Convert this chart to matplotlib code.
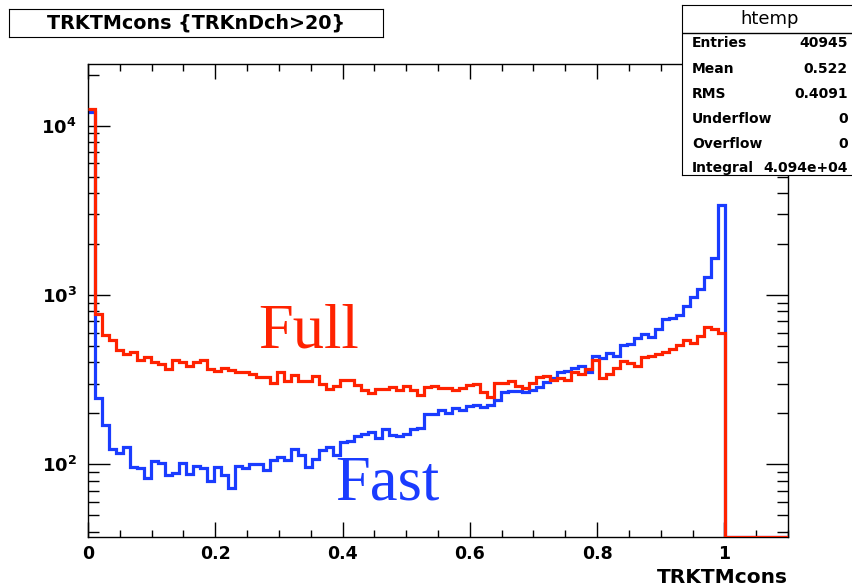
import numpy as np
import matplotlib
matplotlib.use("Agg")
import matplotlib.pyplot as plt
from matplotlib.ticker import MultipleLocator, LogLocator, NullFormatter

# histogram contents, 100 bins from 0 to 1.1
full = [12500, 773, 581, 542, 473, 448, 462, 413, 428, 404,
        391, 364, 413, 404, 382, 404, 413, 364, 356, 369,
        360, 349, 349, 341, 329, 329, 303, 352, 312, 337,
        312, 312, 332, 298, 277, 290, 315, 315, 294, 275,
        265, 278, 278, 287, 275, 290, 275, 256, 287, 290,
        284, 281, 275, 281, 294, 297, 268, 251, 303, 303,
        312, 290, 281, 303, 327, 332, 315, 322, 315, 352,
        341, 364, 413, 322, 341, 369, 409, 395, 381, 433,
        438, 448, 462, 478, 507, 542, 518, 573, 644, 627,
        594, 0, 0, 0, 0, 0, 0, 0, 0, 0]

fast = [12100, 245, 171, 123, 117, 127, 97, 95, 83, 105,
        102, 87, 89, 102, 88, 98, 95, 80, 97, 86,
        72, 98, 95, 100, 101, 92, 106, 111, 106, 123,
        113, 97, 107, 121, 127, 113, 136, 137, 146, 151,
        156, 143, 161, 149, 146, 152, 161, 163, 198, 198,
        209, 202, 214, 209, 221, 224, 217, 224, 240, 268,
        272, 272, 268, 275, 287, 307, 322, 352, 357, 369,
        381, 352, 437, 423, 456, 438, 507, 514, 555, 588,
        563, 627, 718, 729, 762, 861, 977, 1082, 1273, 1648,
        3400, 0, 0, 0, 0, 0, 0, 0, 0, 0]

x_lo, x_hi = 0.0, 1.1
y_lo, y_hi = 37.2, 23140

xticks = [0, 0.2, 0.4, 0.6, 0.8, 1.0]
xticklabels = ["0", "0.2", "0.4", "0.6", "0.8", "1"]
yticks = [100, 1000, 10000]
yticklabels = [r"$\mathbf{10^{2}}$", r"$\mathbf{10^{3}}$", r"$\mathbf{10^{4}}$"]

stat_names = ["Entries", "Mean", "RMS", "Underflow", "Overflow", "Integral"]
stat_values = ["40945", "0.522", "0.4091", "0", "0", "4.094e+04"]

RED = "#ff2200"
BLUE = "#1a3cff"

plt.rcParams["font.family"] = "DejaVu Sans"
plt.rcParams["mathtext.fontset"] = "dejavusans"

W, H = 852, 588
fig = plt.figure(figsize=(W / 100, H / 100), dpi=100)
ax = fig.add_axes([88 / W, 1 - 537 / H, 700 / W, 473 / H])

edges = np.linspace(x_lo, x_hi, len(full) + 1)
# empty bins are drawn along the bottom of the frame, like ROOT does
ax.stairs(np.where(np.array(fast) > 0, fast, y_lo), edges, baseline=None,
          color=BLUE, lw=2.3, zorder=2)
ax.stairs(np.where(np.array(full) > 0, full, y_lo), edges, baseline=None,
          color=RED, lw=2.3, zorder=3)

ax.set_yscale("log")
ax.set_xlim(x_lo, x_hi)
ax.set_ylim(y_lo, y_hi)

ax.set_xticks(xticks)
ax.set_xticklabels(xticklabels, fontweight="bold")
ax.xaxis.set_minor_locator(MultipleLocator(0.05))
ax.set_yticks(yticks)
ax.set_yticklabels(yticklabels)
ax.yaxis.set_minor_locator(LogLocator(base=10, subs=np.arange(2, 10)))
ax.yaxis.set_minor_formatter(NullFormatter())

ax.tick_params(which="both", direction="in", top=True, right=True, width=1)
ax.tick_params(axis="x", which="major", length=10.8, labelsize=12.5, pad=5.5)
ax.tick_params(axis="x", which="minor", length=5)
ax.tick_params(axis="y", which="major", length=15.8, labelsize=13, pad=8)
ax.tick_params(axis="y", which="minor", length=8)
for s in ax.spines.values():
    s.set_linewidth(1)

fig.text(788 / W, 1 - 583 / H, "TRKTMcons", ha="right", va="baseline",
         fontsize=14.5, fontweight="bold")

fig.text(258 / W, 1 - 348 / H, "Full", family="Liberation Serif",
         fontsize=45, color=RED, va="baseline")
fig.text(335 / W, 1 - 500 / H, "Fast", family="Liberation Serif",
         fontsize=45, color=BLUE, va="baseline")

# title box
tax = fig.add_axes([9 / W, 1 - 37 / H, 374 / W, 28 / H])
tax.set_xticks([])
tax.set_yticks([])
tax.text(0.5, 0.5, "TRKTMcons {TRKnDch>20}", ha="center", va="center",
         fontsize=13.8, fontweight="bold", transform=tax.transAxes)

# stats box
sax = fig.add_axes([682 / W, 1 - 175 / H, 180 / W, 170 / H], zorder=5)
sax.set_facecolor("white")
sax.set_xticks([])
sax.set_yticks([])
sax.set_xlim(0, 1)
sax.set_ylim(0, 1)
sax.axhline((175 - 33) / 170, color="black", lw=1)
sax.text((770 - 682) / 180, (175 - 19) / 170, "htemp", ha="center", va="center",
         fontsize=13)
row_y = [43, 69, 94, 119, 144, 168]
for name, val, yy in zip(stat_names, stat_values, row_y):
    sax.text((692 - 682) / 180, (175 - yy) / 170, name, ha="left", va="center",
             fontsize=10, fontweight="bold")
    sax.text((848 - 682) / 180, (175 - yy) / 170, val, ha="right", va="center",
             fontsize=10, fontweight="bold")

fig.savefig("out.png", dpi=100)
